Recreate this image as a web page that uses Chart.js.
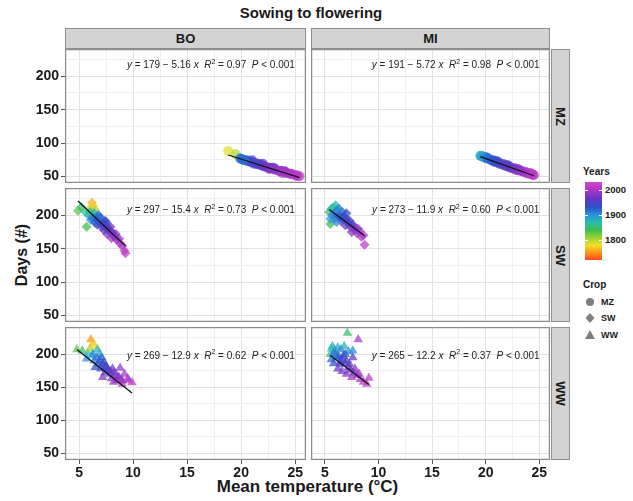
<!DOCTYPE html>
<html>
<head>
<meta charset="utf-8">
<title>Sowing to flowering</title>
<script src="https://cdn.jsdelivr.net/npm/chart.js@4.4.1/dist/chart.umd.min.js"></script>
<style>
  body { margin: 0; background: #fff; font-family: "Liberation Sans", Arial, sans-serif; color: #1a1a1a; }
  #wrap { position: relative; width: 633px; height: 501px; overflow: hidden; }
  canvas, .strip, .txt, .bar, .mark { position: absolute; }
  .strip { background: #d3d3d3; border: 1px solid #8f8f8f; box-sizing: border-box; font-weight: bold; font-size: 13px; display: flex; align-items: center; justify-content: center; }
  .strip.side span { display: inline-block; transform: rotate(90deg); }
  .txt { font-weight: bold; white-space: nowrap; }
  .mark { height: 1px; background: #fff; }
</style>
</head>
<body>
<div id="wrap">
  <div class="txt" style="left:0;width:622px;top:4px;text-align:center;font-size:15px;">Sowing to flowering</div>
  <div class="strip" style="left:65px;top:28px;width:241px;height:21px;">BO</div>
  <div class="strip" style="left:311px;top:28px;width:239px;height:21px;">MI</div>
  <div class="strip side" style="left:551px;top:49px;width:19px;height:134px;"><span>MZ</span></div>
  <div class="strip side" style="left:551px;top:188px;width:19px;height:134px;"><span>SW</span></div>
  <div class="strip side" style="left:551px;top:327px;width:19px;height:133px;"><span>WW</span></div>
  <div class="txt" style="left:-38px;top:245px;width:120px;height:20px;line-height:20px;text-align:center;font-size:16px;transform:rotate(-90deg);">Days (#)</div>
  <div class="txt" style="left:65px;top:477px;width:485px;text-align:center;font-size:17px;">Mean temperature (°C)</div>

  <div class="txt" style="left:583px;top:166px;font-size:10px;">Years</div>
  <div class="bar" id="colorbar" style="left:585px;top:182px;width:17px;height:78px;"></div>
  <div id="yearLabels"></div>

  <div class="txt" style="left:583px;top:279px;font-size:10px;">Crop</div>
  <svg style="position:absolute;left:583px;top:295px;" width="16" height="48">
    <circle cx="7" cy="7" r="4" fill="#7f7f7f"/>
    <polygon points="7,18 11.5,23 7,28 2.5,23" fill="#7f7f7f"/>
    <polygon points="7,35 12,44 2,44" fill="#7f7f7f"/>
  </svg>
  <div class="txt" style="left:601px;top:297px;font-size:9px;">MZ</div>
  <div class="txt" style="left:601px;top:313px;font-size:9px;">SW</div>
  <div class="txt" style="left:601px;top:330px;font-size:9px;">WW</div>
</div>

<script>
// ---- data ----
const boMzTemp = [18.8, 19.5, 19.9, 20.2, 20.5, 20.8, 21.0, 21.3, 21.5, 21.8, 22.0, 22.3, 22.5, 22.8, 23.0, 23.2, 23.5, 23.7, 24.0, 24.2, 24.5, 24.7, 25.0, 25.2, 25.4, 21.0, 22.0, 23.0, 24.0, 22.6, 23.8, 20.0, 20.6, 21.2, 21.6, 22.1, 22.7, 23.1, 23.6, 24.1, 24.6, 25.1, 20.3];
const boMzDays = [88, 83, 77, 75, 74, 72, 71, 70, 68, 67, 66, 64, 63, 62, 61, 60, 58, 58, 56, 55, 54, 53, 52, 51, 50, 74, 69, 63, 58, 61, 55, 76, 73, 69, 69, 65, 63, 61, 58, 56, 54, 51, 74];
const boMzYear = [1785, 1800, 1900, 1930, 1920, 1950, 1940, 1960, 1955, 1970, 1965, 1975, 1980, 1970, 1985, 1990, 1985, 1995, 2000, 1995, 2005, 2000, 2010, 2005, 2012, 1945, 1960, 1975, 1990, 2000, 2008, 1925, 1935, 1950, 1948, 1968, 1972, 1982, 1992, 1998, 2002, 2008, 1915];

const miMzTemp = [19.5, 19.7, 19.9, 20.1, 20.3, 20.5, 20.8, 21.0, 21.3, 21.5, 21.8, 22.0, 22.3, 22.5, 22.8, 23.0, 23.3, 23.5, 23.8, 24.0, 24.3, 24.5, 20.0, 21.0, 22.0, 23.0, 19.6, 20.2, 20.7, 21.2, 21.7, 22.2, 22.7, 23.2, 23.7, 24.2, 24.4];
const miMzDays = [81, 80, 78, 77, 76, 74, 72, 71, 69, 68, 66, 65, 63, 62, 60, 59, 58, 57, 55, 54, 53, 52, 79, 73, 67, 61, 80, 77, 74, 71, 68, 65, 62, 59, 57, 55, 52];
const miMzYear = [1880, 1895, 1910, 1925, 1900, 1940, 1935, 1950, 1945, 1960, 1955, 1965, 1970, 1975, 1980, 1985, 1990, 1995, 2000, 2005, 2010, 2012, 1915, 1930, 1950, 1975, 1890, 1920, 1930, 1940, 1955, 1962, 1972, 1985, 1995, 2005, 2010];

const boSwTemp = [4.9, 5.2, 5.6, 5.7, 6.2, 6.3, 6.0, 6.5, 5.9, 6.2, 6.4, 6.6, 6.8, 6.9, 6.1, 6.5, 7.0, 7.2, 7.4, 7.1, 7.5, 7.7, 7.3, 7.9, 8.0, 7.6, 8.2, 8.4, 8.0, 8.5, 8.7, 8.8, 9.0, 9.2, 9.3, 6.7, 7.8, 6.0, 6.3, 6.7, 7.0, 7.3, 7.6, 7.9, 8.3, 6.9, 7.5, 8.1];
const boSwDays = [207, 212, 205, 183, 219, 214, 210, 208, 200, 198, 203, 196, 200, 192, 193, 189, 196, 188, 192, 183, 185, 180, 178, 183, 175, 172, 170, 172, 166, 163, 165, 158, 154, 147, 143, 186, 176, 205, 195, 193, 189, 186, 180, 177, 168, 197, 190, 173];
const boSwYear = [1830, 1850, 1870, 1840, 1760, 1770, 1790, 1800, 1880, 1900, 1890, 1910, 1920, 1930, 1905, 1925, 1940, 1950, 1945, 1960, 1955, 1965, 1970, 1960, 1975, 1980, 1985, 1980, 1990, 1995, 1990, 2000, 2005, 2010, 2012, 1935, 1972, 1860, 1915, 1928, 1938, 1948, 1958, 1968, 1988, 1915, 1942, 1978];

const miSwTemp = [5.4, 5.5, 5.6, 5.8, 6.0, 6.2, 5.7, 5.9, 6.3, 6.6, 6.8, 6.5, 7.0, 7.2, 6.9, 7.4, 7.6, 7.8, 7.5, 8.0, 8.2, 8.4, 8.6, 8.7, 6.1, 7.0, 5.5, 6.0, 6.4, 6.7, 7.1, 7.3, 7.7, 6.3, 8.1];
const miSwDays = [205, 187, 210, 212, 215, 208, 200, 196, 200, 205, 198, 192, 194, 188, 185, 182, 186, 178, 175, 173, 176, 168, 170, 156, 190, 203, 195, 205, 198, 195, 190, 192, 183, 210, 180];
const miSwYear = [1850, 1840, 1880, 1860, 1870, 1900, 1910, 1925, 1930, 1920, 1940, 1945, 1955, 1960, 1965, 1970, 1965, 1980, 1985, 1990, 1995, 2000, 2005, 2010, 1905, 1935, 1895, 1915, 1928, 1938, 1950, 1945, 1968, 1905, 1985];

const boWwTemp = [4.8, 5.3, 5.8, 6.1, 6.3, 6.5, 6.0, 6.7, 6.2, 5.7, 6.4, 6.9, 7.1, 6.8, 7.3, 7.5, 7.0, 7.7, 7.4, 7.9, 8.1, 8.3, 8.0, 8.6, 8.8, 8.5, 9.0, 9.2, 9.5, 9.6, 9.9, 9.0, 8.2, 6.5, 7.2, 6.6, 6.9, 7.2, 7.6, 7.9, 8.3, 8.7, 6.3, 7.4, 8.9];
const boWwDays = [207, 205, 202, 222, 216, 212, 208, 207, 198, 193, 190, 200, 195, 186, 188, 182, 178, 176, 172, 170, 178, 168, 163, 166, 179, 160, 160, 170, 163, 160, 157, 155, 158, 180, 165, 195, 190, 185, 178, 174, 172, 165, 200, 180, 160];
const boWwYear = [1830, 1850, 1870, 1750, 1765, 1780, 1800, 1880, 1890, 1900, 1910, 1895, 1920, 1930, 1925, 1940, 1945, 1950, 1955, 1960, 1965, 1970, 1975, 1980, 1985, 1985, 1990, 1995, 2000, 2005, 2010, 2000, 1995, 1935, 1975, 1915, 1928, 1938, 1950, 1962, 1972, 1982, 1905, 1948, 1995];

const miWwTemp = [7.1, 8.1, 5.5, 5.6, 5.7, 5.9, 6.2, 6.5, 6.8, 7.2, 5.6, 5.8, 6.1, 6.4, 6.7, 7.0, 7.3, 7.6, 6.2, 6.6, 7.0, 7.4, 7.8, 8.0, 7.5, 8.3, 8.6, 9.1, 8.9, 7.6, 6.0, 6.3, 6.6, 6.9, 7.2, 6.5, 7.7, 8.2, 5.8, 6.9];
const miWwDays = [232, 222, 200, 208, 212, 205, 210, 207, 212, 204, 192, 186, 195, 188, 197, 190, 185, 195, 178, 174, 170, 176, 178, 168, 165, 162, 158, 164, 155, 205, 200, 196, 192, 186, 180, 185, 172, 170, 200, 200];
const miWwYear = [1850, 2000, 1860, 1870, 1880, 1900, 1890, 1910, 1880, 1895, 1920, 1930, 1925, 1945, 1940, 1950, 1960, 1955, 1965, 1975, 1980, 1970, 1985, 1990, 1995, 2000, 2005, 2010, 2008, 1905, 1915, 1928, 1938, 1950, 1962, 1958, 1978, 1992, 1912, 1932];

// fits: BO-MZ, MI-MZ, BO-SW, MI-SW, BO-WW, MI-WW
const fitIntercept = [179, 191, 297, 273, 269, 265];
const fitSlope = [-5.16, -5.72, -15.4, -11.9, -12.9, -12.2];
const fitR2 = ["0.97", "0.98", "0.73", "0.60", "0.62", "0.37"];

const legendYears = [2000, 1900, 1800];

// ---- colours ----
const yearStops = [1720, 1750, 1780, 1810, 1840, 1870, 1900, 1930, 1965, 2000, 2032];
const stopColors = [[255, 70, 30], [255, 150, 20], [240, 225, 40], [150, 210, 50], [60, 190, 80], [40, 190, 170], [40, 150, 215], [45, 80, 205], [100, 55, 195], [170, 55, 195], [215, 70, 205]];

function yearColor(yr, a) {
    let i = 0;
    while (i < yearStops.length - 2 && yr > yearStops[i + 1]) i++;
    let f = (yr - yearStops[i]) / (yearStops[i + 1] - yearStops[i]);
    f = Math.max(0, Math.min(1, f));
    const c = stopColors[i].map((v, k) => Math.round(v + (stopColors[i + 1][k] - v) * f));
    return "rgba(" + c[0] + "," + c[1] + "," + c[2] + "," + a + ")";
}

// colour bar
const yMin = yearStops[0], yMax = yearStops[yearStops.length - 1];
let grad = yearStops.map((s, i) => "rgb(" + stopColors[i].join(",") + ") " + ((s - yMin) / (yMax - yMin) * 100).toFixed(1) + "%");
document.getElementById("colorbar").style.background = "linear-gradient(to top, " + grad.join(", ") + ")";
let yl = "";
legendYears.forEach((yr) => {
    const py = 182 + (yMax - yr) / (yMax - yMin) * 78;
    yl += '<div class="txt" style="left:605px;top:' + (py - 6) + 'px;font-size:9.5px;">' + yr + "</div>";
    yl += '<div class="mark" style="left:585px;top:' + Math.round(py) + 'px;width:3px;"></div>';
    yl += '<div class="mark" style="left:599px;top:' + Math.round(py) + 'px;width:3px;"></div>';
});
document.getElementById("yearLabels").innerHTML = yl;

// ---- layout ----
Chart.defaults.font.family = "'Liberation Sans', Arial, sans-serif";
const colLeft = [65, 311];
const colWidth = [241, 239];
const rowTop = [49, 188, 327];
const rowHeight = [134, 134, 133];
const eqRowDays = [216, 207, 197];
const yAxisW = 50;
const xAxisH = 24;

function noPad(s) {
    s.paddingTop = 0;
    s.paddingBottom = 0;
    s.paddingLeft = 0;
    s.paddingRight = 0;
}

const panelBox = {
    id: "panelBox",
    afterDraw(chart) {
        const a = chart.chartArea;
        const ctx = chart.ctx;
        ctx.save();
        ctx.strokeStyle = "#8c8c8c";
        ctx.lineWidth = 1.3;
        ctx.strokeRect(a.left + 0.6, a.top + 0.6, a.right - a.left - 1.2, a.bottom - a.top - 1.2);
        ctx.restore();
    },
};

const eqLabel = {
    id: "eqLabel",
    afterDatasetsDraw(chart, args, opts) {
        const i = opts.fit;
        const ctx = chart.ctx;
        const parts = [
            ["y", "italic 10px", 0],
            [" = " + fitIntercept[i] + " \u2212 " + Math.abs(fitSlope[i]) + " ", "10px", 0],
            ["x", "italic 10px", 0],
            ["  ", "10px", 0],
            ["R", "italic 10px", 0],
            ["2", "7px", 4],
            [" = " + fitR2[i] + "  ", "10px", 0],
            ["P", "italic 10px", 0],
            [" < 0.001", "10px", 0],
        ];
        const fam = " 'Liberation Sans', Arial, sans-serif";
        ctx.save();
        let w = 0;
        parts.forEach((p) => { ctx.font = p[1] + fam; w += ctx.measureText(p[0]).width; });
        let x = chart.scales.x.getPixelForValue(17.2) - w / 2;
        const y = chart.scales.y.getPixelForValue(eqRowDays[opts.row]);
        ctx.fillStyle = "#222";
        ctx.textBaseline = "middle";
        parts.forEach((p) => {
            ctx.font = p[1] + fam;
            ctx.fillText(p[0], x, y - p[2]);
            x += ctx.measureText(p[0]).width;
        });
        ctx.restore();
    },
};

const panels = [
    { col: 0, row: 0, temp: boMzTemp, days: boMzDays, year: boMzYear, shape: "circle" },
    { col: 1, row: 0, temp: miMzTemp, days: miMzDays, year: miMzYear, shape: "circle" },
    { col: 0, row: 1, temp: boSwTemp, days: boSwDays, year: boSwYear, shape: "rectRot" },
    { col: 1, row: 1, temp: miSwTemp, days: miSwDays, year: miSwYear, shape: "rectRot" },
    { col: 0, row: 2, temp: boWwTemp, days: boWwDays, year: boWwYear, shape: "triangle" },
    { col: 1, row: 2, temp: miWwTemp, days: miWwDays, year: miWwYear, shape: "triangle" },
];

const tickFont = { size: 14, weight: "bold" };

panels.forEach((p, i) => {
    const showY = p.col == 0;
    const showX = p.row == 2;
    const cv = document.createElement("canvas");
    const w = colWidth[p.col] + (showY ? yAxisW : 0);
    const h = rowHeight[p.row] + (showX ? xAxisH : 0);
    cv.width = w;
    cv.height = h;
    cv.style.left = colLeft[p.col] - (showY ? yAxisW : 0) + "px";
    cv.style.top = rowTop[p.row] + "px";
    document.getElementById("wrap").appendChild(cv);

    const tMin = Math.min(...p.temp);
    const tMax = Math.max(...p.temp);
    const fitLine = [
        { x: tMin, y: fitIntercept[i] + fitSlope[i] * tMin },
        { x: tMax, y: fitIntercept[i] + fitSlope[i] * tMax },
    ];
    const size = p.shape == "circle" ? 5 : p.shape == "rectRot" ? 5 : 5.5;

    new Chart(cv.getContext("2d"), {
        type: "scatter",
        data: {
            datasets: [
                {
                    type: "line",
                    data: fitLine,
                    borderColor: "#111",
                    borderWidth: 1.3,
                    pointRadius: 0,
                },
                {
                    data: p.temp.map((t, k) => ({ x: t, y: p.days[k] })),
                    pointStyle: p.shape,
                    pointRadius: size,
                    pointBorderWidth: 0,
                    pointBackgroundColor: p.year.map((y) => yearColor(y, 0.72)),
                },
            ],
        },
        options: {
            responsive: false,
            animation: false,
            events: [],
            layout: { padding: 0, autoPadding: false },
            plugins: {
                legend: { display: false },
                tooltip: { enabled: false },
                eqLabel: { fit: i, row: p.row },
            },
            scales: {
                x: {
                    type: "linear",
                    min: 3.7,
                    max: 26,
                    afterFit: (s) => { s.height = showX ? xAxisH : 0; noPad(s); },
                    border: { display: false },
                    grid: {
                        color: (c) => (c.tick && c.tick.value % 5 === 0 ? "#e2e2e2" : "#f0f0f0"),
                        drawTicks: showX,
                        tickLength: 4,
                        tickColor: (c) => (c.tick && c.tick.value % 5 === 0 ? "#555" : "rgba(0,0,0,0)"),
                    },
                    ticks: {
                        display: showX,
                        stepSize: 2.5,
                        includeBounds: false,
                        autoSkip: false,
                        maxRotation: 0,
                        padding: 1,
                        color: "#1a1a1a",
                        font: tickFont,
                        callback: (v) => (v % 5 === 0 ? v : ""),
                    },
                },
                y: {
                    type: "linear",
                    min: 40,
                    max: 241,
                    afterFit: (s) => { s.width = showY ? yAxisW : 0; noPad(s); },
                    border: { display: false },
                    grid: {
                        color: (c) => (c.tick && c.tick.value % 50 === 0 ? "#e2e2e2" : "#f0f0f0"),
                        drawTicks: showY,
                        tickLength: 4,
                        tickColor: (c) => (c.tick && c.tick.value % 50 === 0 ? "#555" : "rgba(0,0,0,0)"),
                    },
                    ticks: {
                        display: showY,
                        stepSize: 25,
                        includeBounds: false,
                        autoSkip: false,
                        padding: 2,
                        color: "#1a1a1a",
                        font: tickFont,
                        callback: (v) => (v % 50 === 0 ? v : ""),
                    },
                },
            },
        },
        plugins: [panelBox, eqLabel],
    });
});
</script>
</body>
</html>
